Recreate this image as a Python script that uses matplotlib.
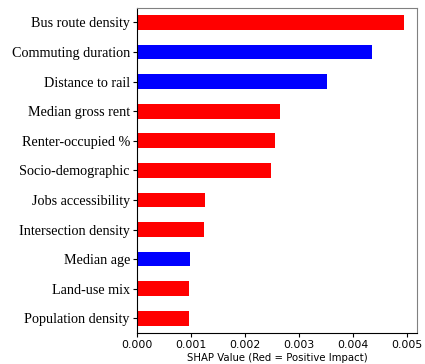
import matplotlib
matplotlib.use('Agg')
import matplotlib.pyplot as plt

# Mean |SHAP| per feature, top feature first
features = ['Bus route density', 'Commuting duration', 'Distance to rail',
            'Median gross rent', 'Renter-occupied %', 'Socio-demographic',
            'Jobs accessibility', 'Intersection density', 'Median age',
            'Land-use mix', 'Population density']
shap_values = [0.00495, 0.00435, 0.00352, 0.00265, 0.00256, 0.00248,
               0.00127, 0.00125, 0.00098, 0.00097, 0.00096]
positive_impact = [True, False, False, True, True, True,
                   True, True, False, True, True]

colors = ['red' if p else 'blue' for p in positive_impact]
ypos = list(range(len(features)))[::-1]

fig = plt.figure(figsize=(4.25, 3.64), dpi=100)
ax = fig.add_axes([0.322, 0.085, 0.659, 0.894])

ax.barh(ypos, shap_values, height=0.5, color=colors)
ax.set_yticks(ypos)
ax.set_yticklabels(features, family='Liberation Serif', fontsize=10.2)
ax.set_ylim(-0.5, len(features) - 0.5)
ax.set_xlim(0, 0.00519)
ax.set_xticks([0, 0.001, 0.002, 0.003, 0.004, 0.005])
ax.set_xticklabels(['0.000', '0.001', '0.002', '0.003', '0.004', '0.005'], fontsize=7.8)
ax.set_xlabel('SHAP Value (Red = Positive Impact)', fontsize=7.3, labelpad=2)

for side in ['top', 'right']:
    ax.spines[side].set_color('gray')
ax.tick_params(axis='both', length=3, pad=2)

fig.savefig('out.png', dpi=100)
